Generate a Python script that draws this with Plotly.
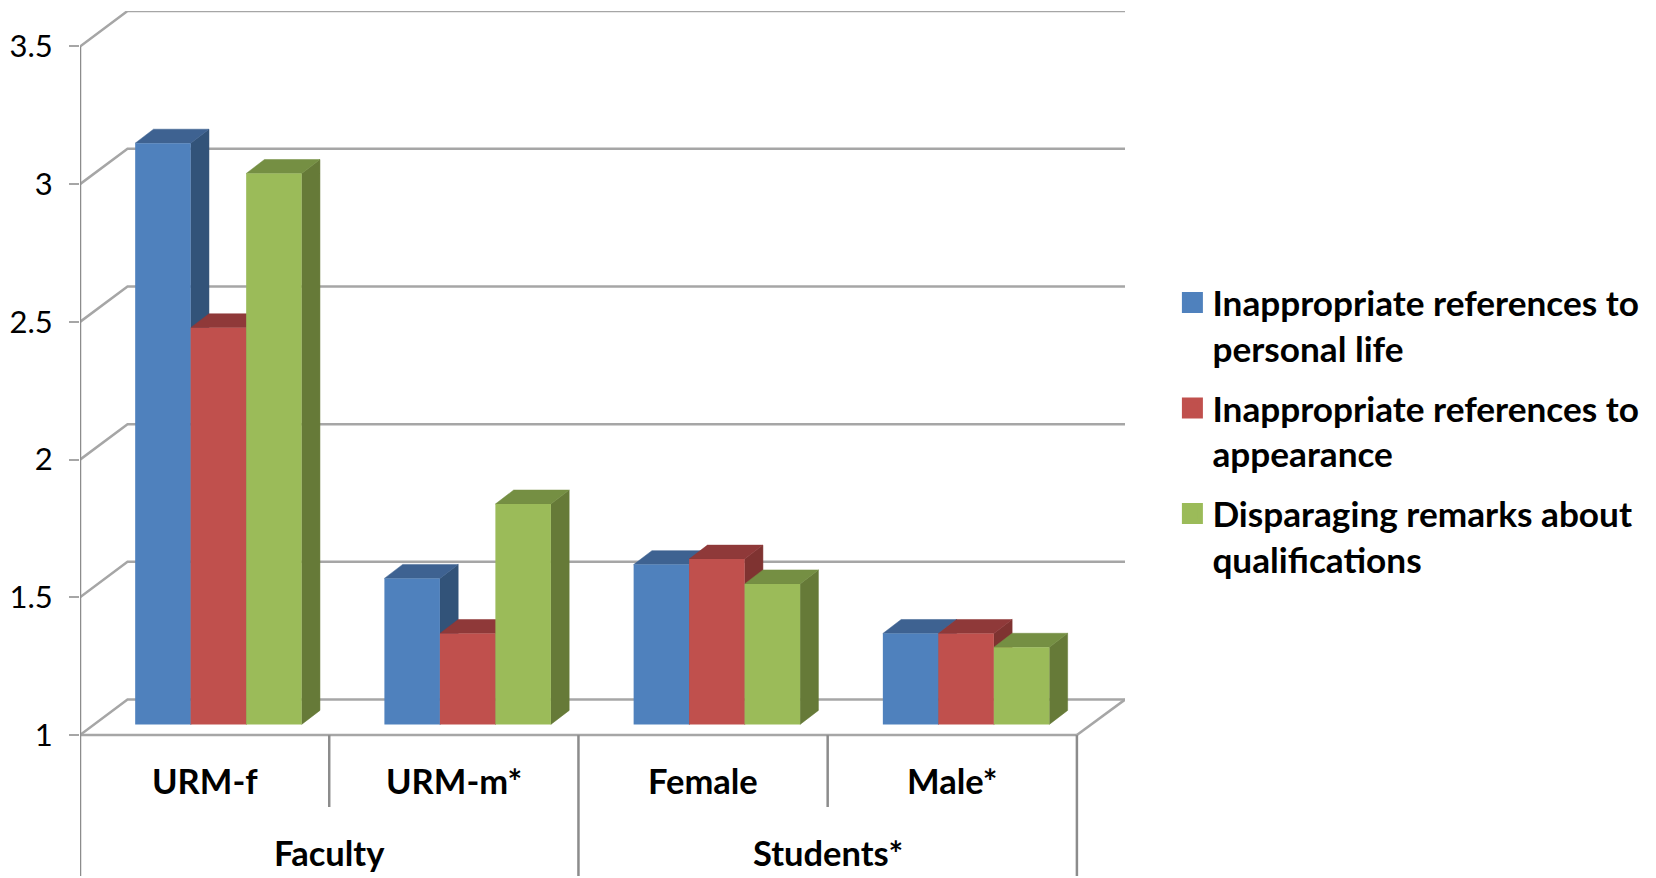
import plotly.graph_objects as go

categories = ["URM-f", "URM-m*", "Female", "Male*"]
groups = ["Faculty", "Students*"]
series_names = ["Inappropriate references to<br>personal life",
                "Inappropriate references to<br>appearance",
                "Disparaging remarks about<br>qualifications"]
personal_life = [3.11, 1.53, 1.58, 1.33]
appearance = [2.44, 1.33, 1.60, 1.33]
qualifications = [3.00, 1.80, 1.51, 1.28]
tick_values = [1, 1.5, 2, 2.5, 3, 3.5]
tick_labels = ["1", "1.5", "2", "2.5", "3", "3.5"]

series = [personal_life, appearance, qualifications]
front = ["#4F81BD", "#C0504D", "#9BBB59"]
side = ["#325379", "#7F3331", "#667A38"]
top = ["#3E6291", "#8F3939", "#758F43"]
GRID = "#A6A6A6"
FONT = "Lato"
TXT = "#000000"

# pixel scales
XPX = 249.1
YPX = 275.6
X0, X_END, X_BACK = -0.5, 3.5, 3.693
Y0, Y_TOP = 0.4884, 3.6287
WALL_DX, WALL_DY = 47.5 / XPX, 35.5 / YPX
BAR_DX, BAR_DY = 18.3 / XPX, 14.0 / YPX
SHIFT_X, SHIFT_Y = 13.8 / XPX, 10.7 / YPX
STUB = 10 / XPX
BARGAP = 0.332
BAR_W = (1 - BARGAP) / 3

fig = go.Figure()


def line(xs, ys, color=GRID, width=2.5):
    fig.add_trace(go.Scatter(x=xs, y=ys, mode="lines", showlegend=False, hoverinfo="skip",
                             line=dict(color=color, width=width), cliponaxis=False))


# back wall grid and floor
for t in tick_values:
    line([X0 - STUB, X0, X0 + WALL_DX, X_BACK], [t, t, t + WALL_DY, t + WALL_DY])
line([X_END, X_BACK], [1, 1 + WALL_DY])
line([X0, X_END], [1, 1])
# axis and separators below the floor
SEP = "#8C8C8C"
line([X0, X0], [3.5, Y0], SEP)
line([1.5, 1.5], [1, Y0], SEP)
line([3.5, 3.5], [1, Y0], SEP)
line([0.5, 0.5], [1, 0.7388], SEP)
line([2.5, 2.5], [1, 0.7388], SEP)

# side and top faces
for j, vals in enumerate(series):
    sx, sy, tx, ty = [], [], [], []
    for i, v in enumerate(vals):
        xr = i + (j - 0.5) * BAR_W
        xl = xr - BAR_W
        sx += [xr, xr + BAR_DX, xr + BAR_DX, xr, xr, None]
        sy += [1, 1 + BAR_DY, v + BAR_DY, v, 1, None]
        tx += [xl, xl + BAR_DX, xr + BAR_DX, xr, xl, None]
        ty += [v, v + BAR_DY, v + BAR_DY, v, v, None]
    for xs, ys, c in ((sx, sy, side[j]), (tx, ty, top[j])):
        fig.add_trace(go.Scatter(x=xs, y=ys, xaxis="x2", yaxis="y2", mode="lines", fill="toself",
                                 fillcolor=c, line=dict(color=c, width=0.5), showlegend=False,
                                 hoverinfo="skip", cliponaxis=False))

# front faces
for j, vals in enumerate(series):
    fig.add_trace(go.Bar(x=list(range(4)), y=[v - 1 for v in vals], base=1, xaxis="x3", yaxis="y3",
                         marker=dict(color=front[j], line=dict(width=0)),
                         showlegend=False, name=series_names[j].replace("<br>", " ")))

# legend entries
for j, name in enumerate(series_names):
    fig.add_trace(go.Scatter(x=[None], y=[None], mode="markers", legendgroup=str(j), name=name,
                             marker=dict(symbol="square", color=front[j], size=16,
                                         line=dict(color=front[j], width=5))))

anns = []
for i, c in enumerate(categories):
    anns.append(dict(x=i, y=0.8334, text=f"<b>{c}</b>", showarrow=False, xref="x", yref="y",
                     font=dict(family=FONT, size=34.5, color=TXT)))
for g, xc in zip(groups, (0.5, 2.5)):
    anns.append(dict(x=xc, y=0.574, text=f"<b>{g}</b>", showarrow=False, xref="x", yref="y",
                     font=dict(family=FONT, size=34.5, color=TXT)))

hidden = dict(visible=False, fixedrange=True)
fig.update_layout(
    width=1656, height=878, autosize=False,
    margin=dict(l=72.4, r=539, t=2.7, b=10, pad=0),
    paper_bgcolor="white", plot_bgcolor="white",
    barmode="group", bargap=BARGAP, bargroupgap=0,
    hovermode=False,
    xaxis=dict(range=[X0, X_BACK], visible=False, fixedrange=True),
    yaxis=dict(range=[Y0, Y_TOP], tickmode="array", tickvals=tick_values, ticktext=tick_labels,
               showgrid=False, zeroline=False, showline=False, ticks="outside", ticklen=10,
               tickwidth=2, tickcolor=GRID, ticklabelstandoff=10, fixedrange=True,
               tickfont=dict(family=FONT, size=31, color=TXT)),
    xaxis2=dict(range=[X0 - SHIFT_X, X_BACK - SHIFT_X], overlaying="x", anchor="y2", **hidden),
    yaxis2=dict(range=[Y0 - SHIFT_Y, Y_TOP - SHIFT_Y], overlaying="y", anchor="x2", **hidden),
    xaxis3=dict(range=[X0 - SHIFT_X, X_BACK - SHIFT_X], overlaying="x", anchor="y3", **hidden),
    yaxis3=dict(range=[Y0 - SHIFT_Y, Y_TOP - SHIFT_Y], overlaying="y", anchor="x3", **hidden),
    legend=dict(xref="container", yref="container", x=1164.4 / 1656, y=1 - 265 / 878,
                xanchor="left", yanchor="top", valign="top",
                font=dict(family=FONT, size=35.2, color=TXT, weight="bold"),
                tracegroupgap=11, bgcolor="rgba(0,0,0,0)", itemsizing="trace", itemclick=False,
                itemdoubleclick=False, borderwidth=0),
    annotations=anns,
)
fig.write_html("out.html")
